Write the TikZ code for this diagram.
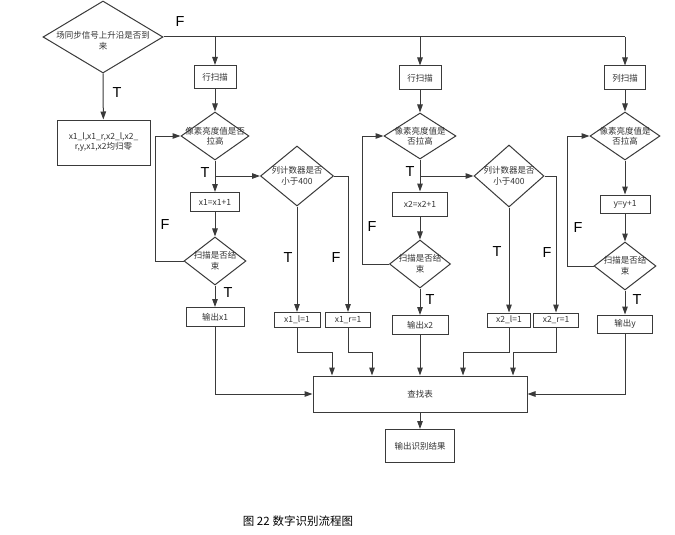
\documentclass[tikz,border=0pt]{standalone}
\usepackage{fontspec}
\setmainfont{Noto Sans CJK SC}
\newfontfamily\labfont{Liberation Sans}
\usetikzlibrary{shapes.geometric,arrows.meta,calc}
\definecolor{ln}{HTML}{3A3A3A}
\definecolor{tx}{HTML}{333333}
\tikzset{
  arr/.style={draw=ln,line width=1pt,-{Triangle[length=8pt,width=5.5pt]}},
  ln/.style={draw=ln,line width=1pt},
  box/.style={draw=ln,line width=1pt,rectangle,inner sep=0pt,text=tx,font=\fontsize{8.5}{10}\selectfont,align=center},
  dia/.style={draw=ln,line width=1pt,diamond,inner sep=0pt},
  dtxt/.style={text=tx,font=\fontsize{8.5}{10.5}\selectfont,align=center,inner sep=0pt},
  lab/.style={text=black,font=\labfont\fontsize{14.5}{14}\selectfont,inner sep=0pt},
}
\begin{document}
\begin{tikzpicture}[x=1pt,y=-1pt]
\useasboundingbox[fill=white] (0,0) rectangle (675,535);

% top decision
\node[dia,minimum width=120,minimum height=72] (d0) at (103,37) {};
\node[dtxt] (d0t) at (103,41) {场同步信号上升沿是否到\\来};
\node[box,minimum width=93,minimum height=45] (init) at (103.5,142.5) {x1\_l,x1\_r,x2\_l,x2\_\\r,y,x1,x2均归零};

% column 1
\node[box,minimum width=42,minimum height=23] (r1) at (215,77) {行扫描};
\node[dia,minimum width=68,minimum height=48] (d1a) at (215,136) {};
\node[dtxt] at (d1a) {像素亮度值是否\\拉高};
\node[box,minimum width=49,minimum height=19] (b1) at (215,202) {x1=x1+1};
\node[dia,minimum width=62,minimum height=48] (d1b) at (215,261) {};
\node[dtxt] at (d1b) {扫描是否结\\束};
\node[box,minimum width=58,minimum height=19] (o1) at (215,317) {输出x1};
\node[dia,minimum width=73,minimum height=60] (c1) at (297,176) {};
\node[dtxt] at (c1) {列计数器是否\\小于400};
\node[box,minimum width=46,minimum height=15] (x1l) at (297,320) {x1\_l=1};
\node[box,minimum width=45,minimum height=15] (x1r) at (348,320) {x1\_r=1};

% column 2
\node[box,minimum width=42,minimum height=24] (r2) at (420,78) {行扫描};
\node[dia,minimum width=72,minimum height=46] (d2a) at (420,136) {};
\node[dtxt] at (d2a) {像素亮度值是\\否拉高};
\node[box,minimum width=55,minimum height=24] (b2) at (420,204) {x2=x2+1};
\node[dia,minimum width=61,minimum height=48] (d2b) at (420,264) {};
\node[dtxt] at (d2b) {扫描是否结\\束};
\node[box,minimum width=56,minimum height=19] (o2) at (420,325) {输出x2};
\node[dia,minimum width=70,minimum height=62] (c2) at (509,176) {};
\node[dtxt] at (c2) {列计数器是否\\小于400};
\node[box,minimum width=43,minimum height=14] (x2l) at (509,320) {x2\_l=1};
\node[box,minimum width=45,minimum height=14] (x2r) at (556,320) {x2\_r=1};

% column 3
\node[box,minimum width=41,minimum height=24] (r3) at (625,78) {列扫描};
\node[dia,minimum width=70,minimum height=48] (d3a) at (625,136) {};
\node[dtxt] at (d3a) {像素亮度值是\\否拉高};
\node[box,minimum width=50,minimum height=18] (b3) at (625,204) {y=y+1};
\node[dia,minimum width=62,minimum height=48] (d3b) at (625,266) {};
\node[dtxt] at (d3b) {扫描是否结\\束};
\node[box,minimum width=55,minimum height=18] (o3) at (625,324) {输出y};

% bottom
\node[box,minimum width=214,minimum height=36] (T) at (420,394) {查找表};
\node[box,minimum width=69,minimum height=33] (R) at (420,446) {输出识别结果};

% top connectors
\coordinate (j3) at (625,37);
\draw[ln] (d0.east) -- (j3);
\draw[arr] (j3) -- (r3);
\draw[arr] (r1 |- d0.east) -- (r1);
\draw[arr] (r2 |- d0.east) -- (r2);
\draw[arr] (d0.south) -- (init);

% column 1 connectors
\draw[arr] (r1) -- (d1a);
\draw[arr] (d1a) -- (b1);
\draw[arr] (d1a.south |- c1.west) -- (c1.west);
\draw[arr] (b1) -- (d1b);
\draw[arr] (d1b) -- (o1);
\draw[arr] (d1b.west) -- ++(-28,0) |- (d1a.west);
\draw[arr] (c1.south) -- (x1l);
\draw[arr] (c1.east) -| (x1r.north);

% column 2 connectors
\draw[arr] (r2) -- (d2a);
\draw[arr] (d2a) -- (b2);
\draw[arr] (d2a.south |- c2.west) -- (c2.west);
\draw[arr] (b2) -- (d2b);
\draw[arr] (d2b) -- (o2);
\draw[arr] (d2b.west) -- ++(-27,0) |- (d2a.west);
\draw[arr] (c2.south) -- (x2l);
\draw[arr] (c2.east) -| (x2r.north);

% column 3 connectors
\draw[arr] (r3) -- (d3a);
\draw[arr] (d3a) -- (b3);
\draw[arr] (b3) -- (d3b);
\draw[arr] (d3b) -- (o3);
\draw[arr] (d3b.west) -- ++(-26,0) |- (d3a.west);

% into lookup table
\coordinate (mid) at (0,352);
\coordinate (t1) at ([xshift=-88]T.north);
\coordinate (t2) at ([xshift=-48]T.north);
\coordinate (t4) at ([xshift=43]T.north);
\coordinate (t5) at ([xshift=93]T.north);
\draw[arr] (o1.south) |- (T.west);
\draw[arr] (x1l.south) |- (mid -| t1) -- (t1);
\draw[arr] (x1r.south) |- (mid -| t2) -- (t2);
\draw[arr] (o2) -- (T);
\draw[arr] (x2l.south) |- (mid -| t4) -- (t4);
\draw[arr] (x2r.south) |- (mid -| t5) -- (t5);
\draw[arr] (o3.south) |- (T.east);
\draw[arr] (T) -- (R);

% labels
\node[lab] (lF0) at (180,22) {F};
\node[lab] (lT0) at (117,93) {T};
\node[lab] (lT1) at (205,173) {T};
\node[lab] (lF1) at (165,225) {F};
\node[lab] (lT1b) at (228,293) {T};
\node[lab] (lT1c) at (288,258) {T};
\node[lab] (lF1c) at (336,258) {F};
\node[lab] (lT2) at (410,172) {T};
\node[lab] (lF2) at (372,227) {F};
\node[lab] (lT2b) at (430,300) {T};
\node[lab] (lT2c) at (497,252) {T};
\node[lab] (lF2c) at (547,253) {F};
\node[lab] (lF3) at (578,228) {F};
\node[lab] (lT3) at (637,300) {T};

% caption
\node[text=black,font=\fontsize{11.5}{13}\selectfont,inner sep=0pt] (cap) at (298,521) {图 22\hspace{3pt}数字识别流程图};
\end{tikzpicture}
\end{document}
